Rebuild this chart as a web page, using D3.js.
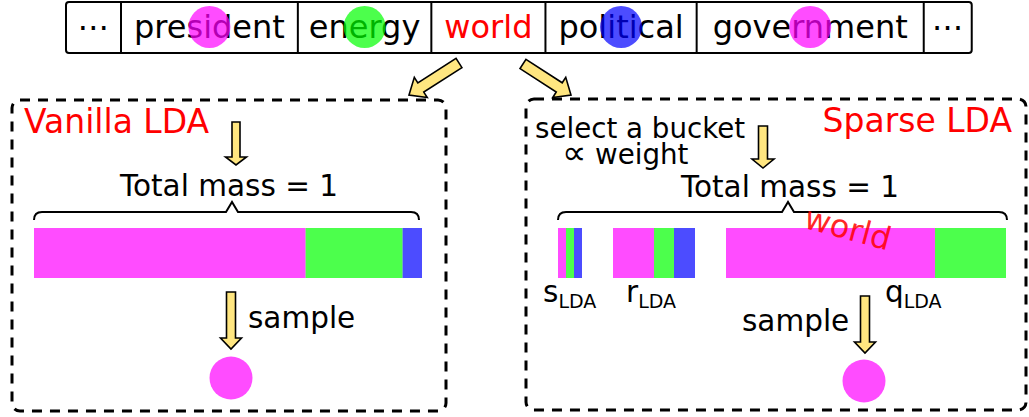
<!DOCTYPE html>
<html>
<head>
<meta charset="utf-8">
<script src="https://cdn.jsdelivr.net/npm/d3@7"></script>
<style>
  html, body { margin: 0; padding: 0; background: #fff; }
  svg { display: block; font-family: "DejaVu Sans", sans-serif; }
</style>
</head>
<body>
<svg id="chart" width="1029" height="417"></svg>
<script>
// ---------- data ----------
const words = ["\u22EF", "president", "energy", "world", "political", "government", "\u22EF"];
const wordTopic = [null, 0, 1, null, 2, 0, null];   // topic index of the circle on each word
const highlightWord = "world";
const topicColors = ["#ff00ff", "#00ff00", "#0000ff"];
const vanillaValues = [0.70, 0.25, 0.05];          // magenta, green, blue
const sparseBucketNames = ["s", "r", "q"];
const sBucket = [8, 8, 8];
const rBucket = [41, 20, 21];
const qBucket = [209, 71];
const sampledTopicVanilla = 0;
const sampledTopicSparse = 0;

// ---------- drawing ----------
const svg = d3.select("#chart");
const FONT = "DejaVu Sans";
const arrowFill = "#ffe680";

function blockArrow(x1, y1, x2, y2, sw, hw, hl) {
  const dx = x2 - x1, dy = y2 - y1, L = Math.hypot(dx, dy);
  const ux = dx / L, uy = dy / L, px = -uy, py = ux;
  const b = L - hl;
  const pt = (a, s) => [x1 + ux * a + px * s, y1 + uy * a + py * s];
  const pts = [pt(0, -sw / 2), pt(b, -sw / 2), pt(b, -hw / 2), pt(L, 0),
               pt(b, hw / 2), pt(b, sw / 2), pt(0, sw / 2)];
  return "M" + pts.map(p => p.join(",")).join("L") + "Z";
}
function drawArrow(x1, y1, x2, y2, sw, hw, hl) {
  svg.append("path").attr("d", blockArrow(x1, y1, x2, y2, sw, hw, hl))
    .attr("fill", arrowFill).attr("stroke", "#000").attr("stroke-width", 1.6)
    .attr("stroke-linejoin", "miter");
}
function brace(x1, x2, xm, y, h) {
  const e = 8;
  return `M${x1},${y + e} Q${x1},${y} ${x1 + e},${y} L${xm - 6},${y} L${xm},${y - h} L${xm + 6},${y} L${x2 - e},${y} Q${x2},${y} ${x2},${y + e}`;
}

// ---- top word strip ----
const topG = svg.append("g");
const cellY = 2, cellH = 51;
const cellPad = [23, 26, 22, 26, 26, 32, 16];
let xCursor = 66;
const cells = [];
words.forEach((w, i) => {
  const t = topG.append("text").attr("y", 38).attr("font-size", 32)
    .attr("font-family", FONT).attr("text-anchor", "middle")
    .attr("fill", w === highlightWord ? "#ff0000" : "#000").text(w);
  const tw = t.node().getComputedTextLength();
  const cw = tw + cellPad[i];
  t.attr("x", xCursor + cw / 2);
  cells.push({ x: xCursor, w: cw, cx: xCursor + cw / 2 });
  xCursor += cw;
});
const stripEnd = xCursor;
topG.append("rect").attr("x", 66).attr("y", cellY).attr("width", stripEnd - 66).attr("height", cellH)
  .attr("rx", 3).attr("fill", "none").attr("stroke", "#000").attr("stroke-width", 2);
cells.slice(1).forEach(c => {
  topG.append("line").attr("x1", c.x).attr("x2", c.x).attr("y1", cellY).attr("y2", cellY + cellH)
    .attr("stroke", "#000").attr("stroke-width", 2);
});
cells.forEach((c, i) => {
  if (wordTopic[i] === null) return;
  topG.append("circle").attr("cx", c.cx).attr("cy", 27).attr("r", 21)
    .attr("fill", topicColors[wordTopic[i]]).attr("fill-opacity", 0.7);
});

// ---- arrows from the word ----
drawArrow(459, 63, 409, 95, 11, 24, 14);
drawArrow(523, 64, 571, 95, 11, 24, 14);

// ---- boxes ----
svg.append("rect").attr("x", 12).attr("y", 100).attr("width", 434).attr("height", 311).attr("rx", 8)
  .attr("fill", "none").attr("stroke", "#000").attr("stroke-width", 3).attr("stroke-dasharray", "10,8");
svg.append("rect").attr("x", 526).attr("y", 99).attr("width", 500).attr("height", 311).attr("rx", 8)
  .attr("fill", "none").attr("stroke", "#000").attr("stroke-width", 3).attr("stroke-dasharray", "10,8");

// ---- Vanilla LDA ----
svg.append("text").attr("x", 24).attr("y", 133).attr("font-size", 33).attr("fill", "#ff0000")
  .attr("font-family", FONT).text("Vanilla LDA");
drawArrow(236, 122, 236, 165, 8, 21, 8);
svg.append("text").attr("x", 229).attr("y", 196).attr("font-size", 29.5).attr("text-anchor", "middle")
  .attr("font-family", FONT).text("Total mass = 1");
svg.append("path").attr("d", brace(34, 419, 232, 212, 10)).attr("fill", "none")
  .attr("stroke", "#000").attr("stroke-width", 2);

const xV = d3.scaleLinear().domain([0, d3.sum(vanillaValues)]).range([34, 422]);
const vCum = d3.cumsum(vanillaValues);
svg.append("g").selectAll("rect").data(vanillaValues).join("rect")
  .attr("x", (d, i) => xV(vCum[i] - d)).attr("width", d => xV(d) - xV(0))
  .attr("y", 228).attr("height", 50)
  .attr("fill", (d, i) => topicColors[i]).attr("fill-opacity", 0.7);

drawArrow(231, 292, 231, 349, 9, 21, 11);
svg.append("text").attr("x", 248).attr("y", 328).attr("font-size", 29.5)
  .attr("font-family", FONT).text("sample");
svg.append("circle").attr("cx", 231).attr("cy", 378).attr("r", 21.5)
  .attr("fill", topicColors[sampledTopicVanilla]).attr("fill-opacity", 0.7);

// ---- Sparse LDA ----
svg.append("text").attr("x", 1012).attr("y", 132).attr("font-size", 33).attr("fill", "#ff0000")
  .attr("text-anchor", "end").attr("font-family", FONT).text("Sparse LDA");
svg.append("text").attr("x", 535).attr("y", 138).attr("font-size", 27.7)
  .attr("font-family", FONT).text("select a bucket");
const wt = svg.append("text").attr("x", 562).attr("y", 164).attr("font-family", FONT);
wt.append("tspan").attr("font-size", 34).text("\u221D");
wt.append("tspan").attr("font-size", 27.7).text(" weight");
drawArrow(763, 126, 763, 168, 9, 22, 9);
svg.append("text").attr("x", 790).attr("y", 197).attr("font-size", 29.5).attr("text-anchor", "middle")
  .attr("font-family", FONT).text("Total mass = 1");
svg.append("path").attr("d", brace(558, 1007, 788, 212, 10)).attr("fill", "none")
  .attr("stroke", "#000").attr("stroke-width", 2);

const buckets = [sBucket, rBucket, qBucket];
const gap = 31;
const totalUnits = d3.sum(buckets, b => d3.sum(b)) + gap * (buckets.length - 1);
const xS = d3.scaleLinear().domain([0, totalUnits]).range([558, 1006]);
const segs = [];
let u = 0;
buckets.forEach((b, bi) => {
  b.forEach((v, ti) => { segs.push({ start: u, v, topic: ti }); u += v; });
  u += gap;
});
svg.append("g").selectAll("rect").data(segs).join("rect")
  .attr("x", d => xS(d.start)).attr("width", d => xS(d.start + d.v) - xS(d.start))
  .attr("y", 228).attr("height", 50)
  .attr("fill", d => topicColors[d.topic]).attr("fill-opacity", 0.7);

// rotated word label on q bucket
svg.append("text").attr("transform", "translate(845,239) rotate(15)")
  .attr("text-anchor", "middle").attr("font-size", 32)
  .attr("font-family", FONT).attr("fill", "#ff0000").attr("fill-opacity", 0.85).text(highlightWord);

// bucket labels
const labelX = [543, 626, 885];
sparseBucketNames.forEach((n, i) => {
  const t = svg.append("text").attr("x", labelX[i]).attr("y", 302).attr("font-family", FONT);
  t.append("tspan").attr("font-size", 29.5).text(n);
  t.append("tspan").attr("font-size", 19).attr("dy", 6).text("LDA");
});

svg.append("text").attr("x", 742).attr("y", 331).attr("font-size", 29.5)
  .attr("font-family", FONT).text("sample");
drawArrow(865, 296, 865, 353, 9, 21, 11);
svg.append("circle").attr("cx", 864).attr("cy", 381).attr("r", 21.5)
  .attr("fill", topicColors[sampledTopicSparse]).attr("fill-opacity", 0.7);
</script>
</body>
</html>
